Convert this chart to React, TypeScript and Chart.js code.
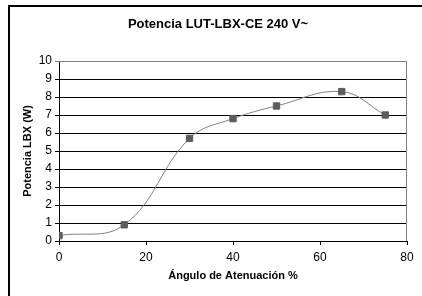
import React, { useEffect, useRef } from "react";
import { Chart, registerables } from "chart.js";

Chart.register(...registerables);

const angles = [0, 15, 30, 40, 50, 65, 75];
const power = [0.3, 0.9, 5.7, 6.8, 7.5, 8.3, 7.0];
const chartTitle = "Potencia LUT-LBX-CE 240 V~";
const xTitle = "Ángulo de Atenuación %";
const yTitle = "Potencia LBX (W)";

const FONT = "'Liberation Sans', Arial, sans-serif";

export default function App() {
  const ref = useRef<HTMLCanvasElement | null>(null);

  useEffect(() => {
    if (!ref.current) return;
    const borderPlugin = {
      id: "plotBorder",
      beforeDatasetsDraw(chart: any) {
        const { ctx, chartArea } = chart;
        ctx.save();
        ctx.strokeStyle = "#808080";
        ctx.lineWidth = 1;
        ctx.beginPath();
        ctx.moveTo(chartArea.left, chartArea.top + 0.5);
        ctx.lineTo(chartArea.right - 0.5, chartArea.top + 0.5);
        ctx.lineTo(chartArea.right - 0.5, chartArea.bottom);
        ctx.stroke();
        ctx.restore();
      },
      afterDraw(chart: any) {
        const { ctx } = chart;
        ctx.save();
        ctx.fillStyle = "#000";
        ctx.font = `bold 13px ${FONT}`;
        ctx.textAlign = "center";
        ctx.textBaseline = "middle";
        ctx.fillText(chartTitle, 218, 24);
        ctx.restore();
      },
    };
    const chart = new Chart(ref.current, {
      type: "line",
      data: {
        datasets: [
          {
            data: angles.map((a, i) => ({ x: a, y: power[i] })),
            borderColor: "#808080",
            borderWidth: 1,
            tension: 0.4,
            pointStyle: "rect",
            pointRadius: 4.5,
            pointBackgroundColor: "#5c5c5c",
            pointBorderColor: "#5c5c5c",
            pointBorderWidth: 1,
            fill: false,
          },
        ],
      },
      options: {
        animation: false,
        responsive: false,
        layout: { padding: { left: 0, right: 15, top: 61, bottom: 0 } },
        plugins: { legend: { display: false }, tooltip: { enabled: false }, title: { display: false } },
        scales: {
          x: {
            type: "linear",
            min: 0,
            max: 80,
            ticks: { stepSize: 20, color: "#000", padding: 5, font: { family: FONT, size: 12 } },
            grid: { drawOnChartArea: false, drawTicks: true, tickLength: 4, color: "#000" },
            border: { color: "#000", width: 1 },
            title: {
              display: true,
              text: xTitle,
              color: "#000",
              font: { family: FONT, size: 11, weight: "bold" },
              padding: { top: 0, bottom: 13 },
            },
            afterFit(scale: any) {
              scale.height = 55;
            },
          },
          y: {
            min: 0,
            max: 10,
            ticks: { stepSize: 1, color: "#000", padding: 3, font: { family: FONT, size: 12 } },
            grid: {
              color: (c: any) => (c.tick && c.tick.value === 10 ? "#808080" : "#000"),
              tickLength: 4,
              lineWidth: 1,
            },
            border: { color: "#000", width: 1 },
            title: {
              display: true,
              text: yTitle,
              color: "#000",
              font: { family: FONT, size: 11, weight: "bold" },
              padding: { top: 21, bottom: 0 },
            },
            afterFit(scale: any) {
              scale.width = 59;
            },
          },
        },
      },
      plugins: [borderPlugin],
    } as any);
    return () => chart.destroy();
  }, []);

  return (
    <div style={{ position: "fixed", left: 0, top: 0, width: 422, height: 296, background: "#fff", overflow: "hidden" }}>
      <div
        style={{
          position: "absolute",
          left: 8,
          top: 5,
          width: 440,
          height: 320,
          borderTop: "2px solid #000",
          borderLeft: "2px solid #000",
        }}
      />
      <canvas ref={ref} width={422} height={296} style={{ position: "absolute", left: 0, top: 0 }} />
    </div>
  );
}
